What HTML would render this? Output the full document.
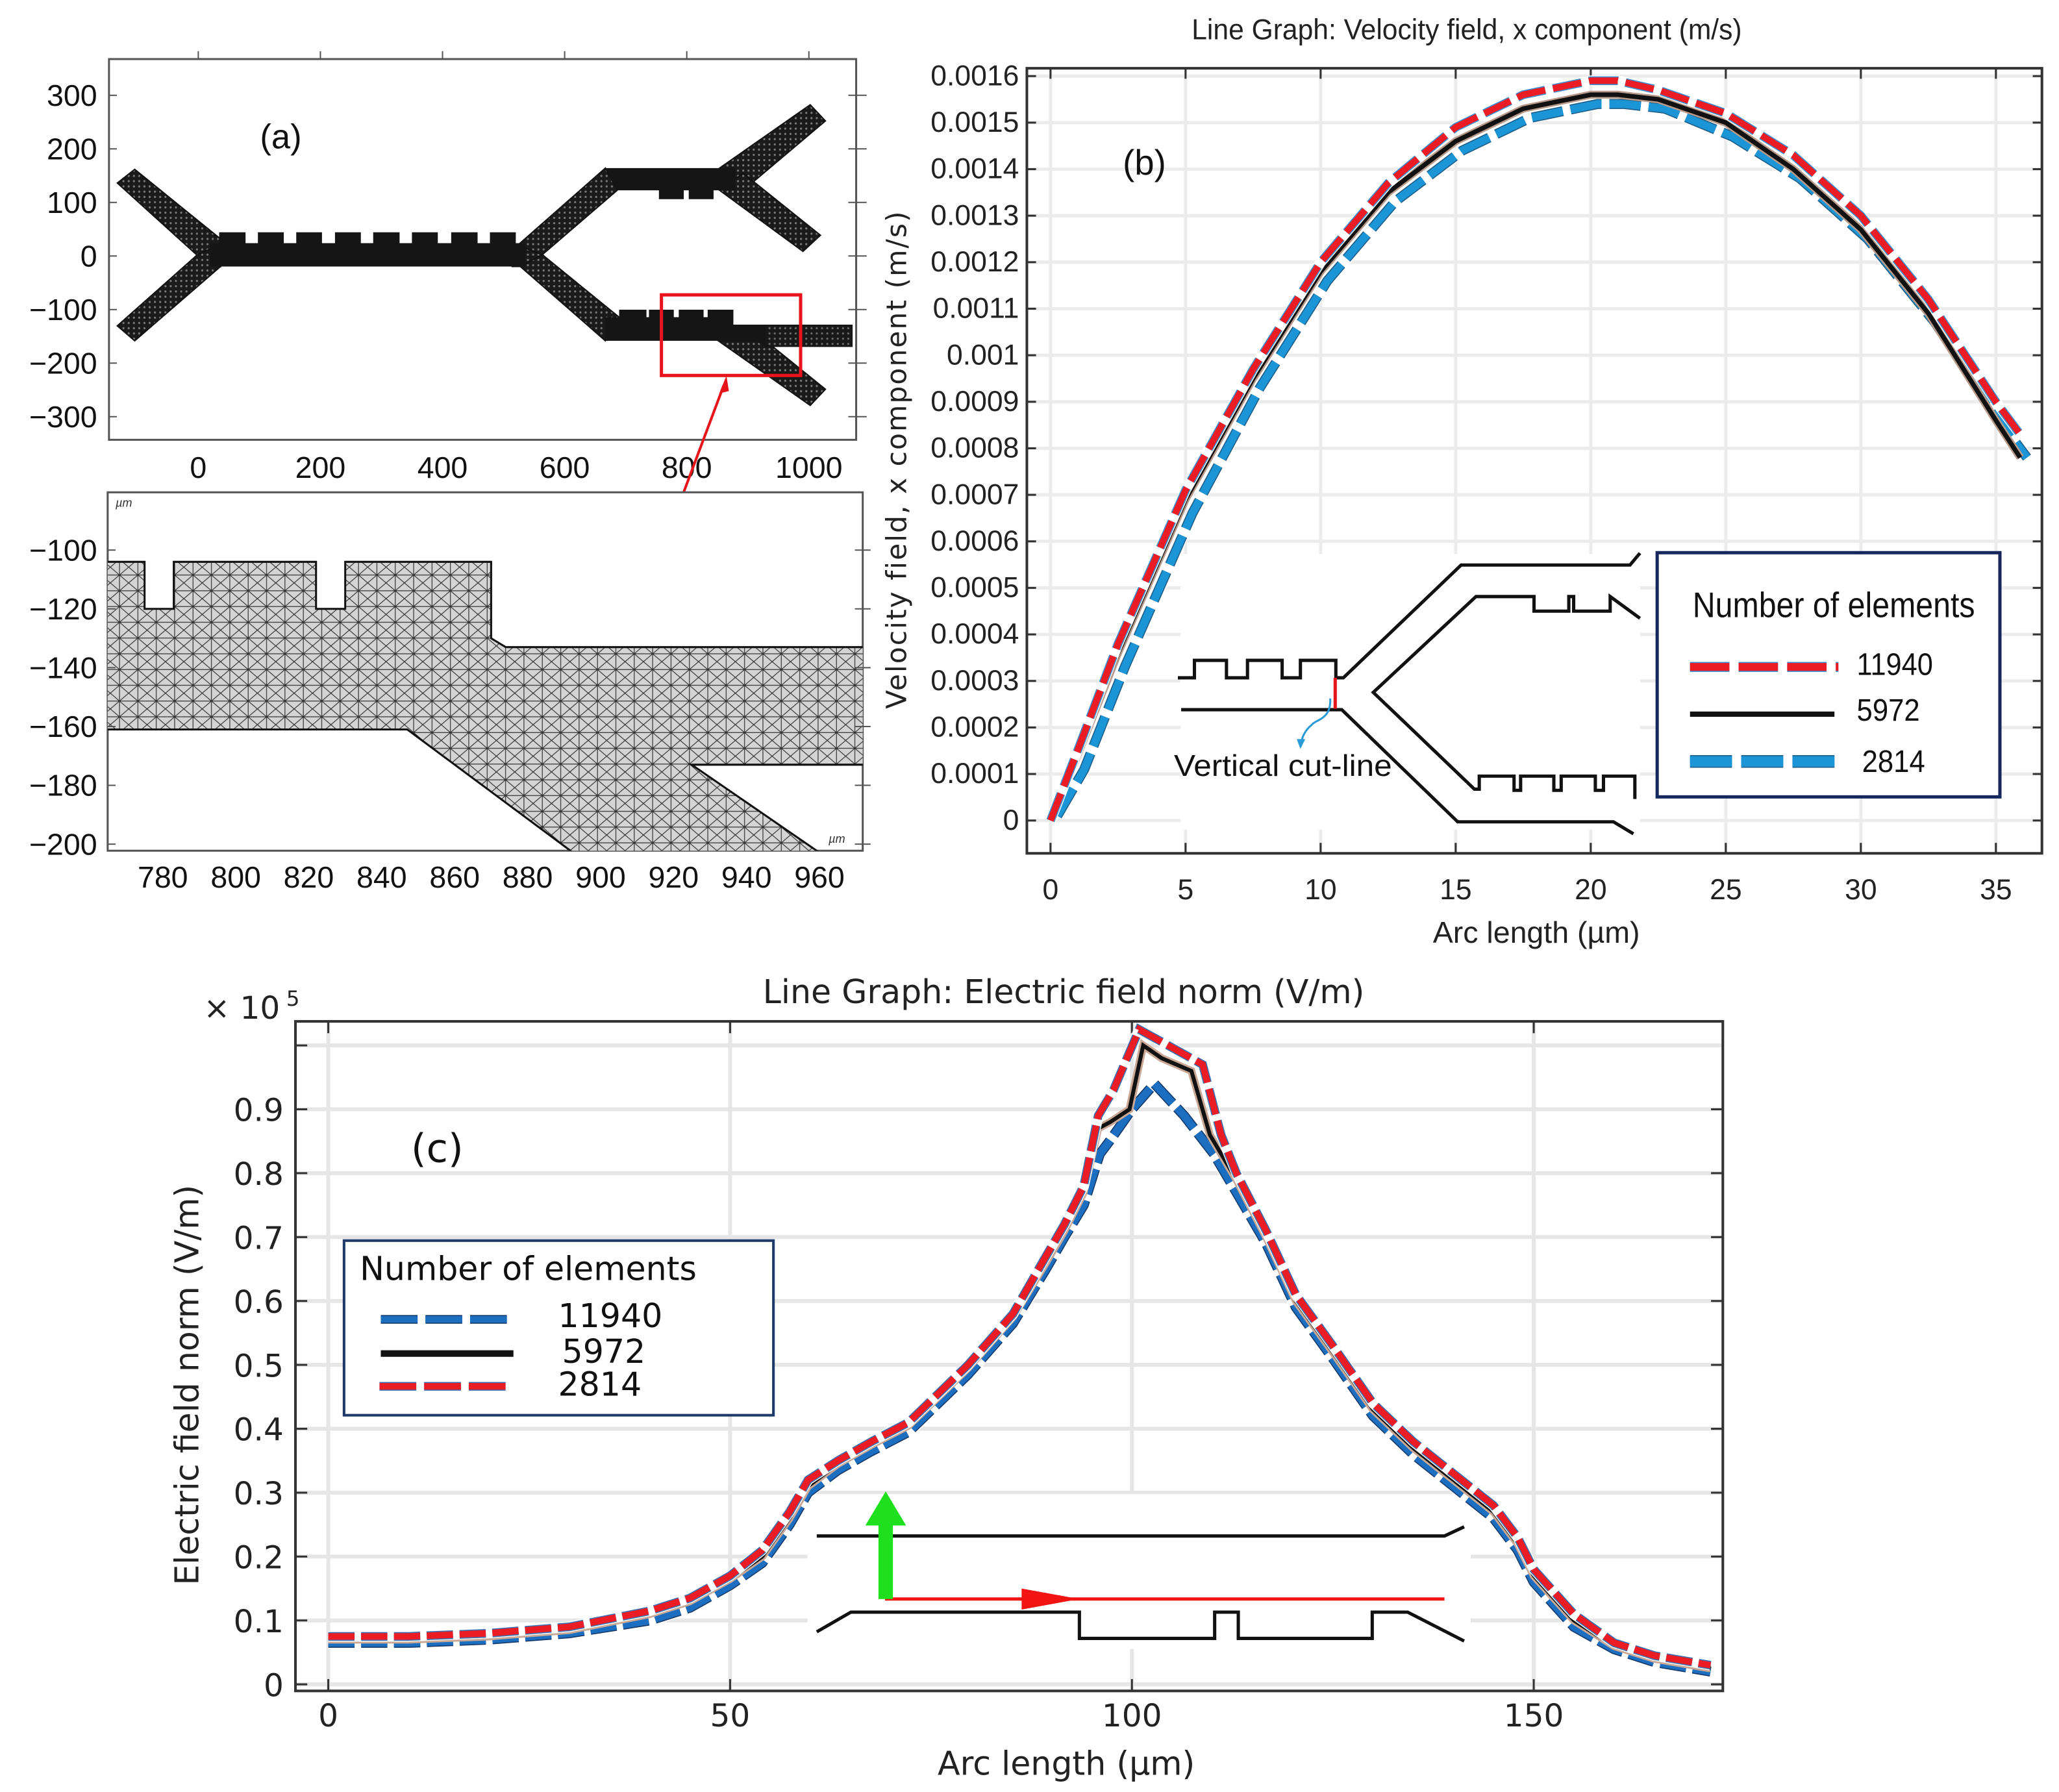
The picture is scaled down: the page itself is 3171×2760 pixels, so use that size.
<!DOCTYPE html>
<html><head><meta charset="utf-8"><style>
html,body{margin:0;padding:0;background:#fff;}
svg{display:block;}
.n{font-family:"Liberation Sans Narrow","Liberation Sans",sans-serif;}
.d{font-family:"DejaVu Sans","Liberation Sans",sans-serif;}
.l{font-family:"Liberation Sans",sans-serif;}
</style></head><body>
<svg id="fig" xmlns="http://www.w3.org/2000/svg" width="3171" height="2760" viewBox="0 0 1568 1365" preserveAspectRatio="none">
<defs>
<pattern id="mesh" width="14" height="12" patternUnits="userSpaceOnUse">
<rect width="14" height="12" fill="#d4d4d4"/>
<path d="M0 0L14 12M14 0L0 12M0 6H14M7 0V12" stroke="#333" stroke-width="0.6" fill="none"/>
</pattern>
<pattern id="dmesh" width="4" height="4" patternUnits="userSpaceOnUse">
<rect width="4" height="4" fill="#1a1a1a"/><circle cx="2" cy="2" r="0.8" fill="#777"/>
</pattern>
<clipPath id="clipA2"><rect x="82" y="375" width="575" height="273"/></clipPath>
<clipPath id="clipB"><rect x="782" y="52" width="773" height="598"/></clipPath>
<clipPath id="clipC"><rect x="225" y="778" width="1087" height="510"/></clipPath>
</defs>
<g id="panelA"></g>
<g id="panelB"></g>
<g id="panelC"></g>
</svg>
<script>
// ---------- Panel (b) data ----------
var bArc = [0, 1, 2.5, 5, 7.5, 10, 12.5, 15, 17.5, 20, 21, 22.5, 25, 27.5, 30, 32.5, 35, 35.9];
var bRed11940 = [0, 0.00015, 0.00038, 0.00071, 0.00097, 0.00120, 0.00137, 0.00149, 0.00156, 0.00159, 0.00159, 0.00157, 0.00152, 0.00143, 0.00130, 0.00112, 0.00090, 0.00083];
var bBlack5972 = [0, 0.00014, 0.00036, 0.00069, 0.00095, 0.00118, 0.00135, 0.00146, 0.00153, 0.00156, 0.00156, 0.00155, 0.00150, 0.00140, 0.00127, 0.00109, 0.00086, 0.00078];
var bBlue2814 = [0.00001, 0.00011, 0.00033, 0.00066, 0.00093, 0.00116, 0.00133, 0.00144, 0.00151, 0.00154, 0.00154, 0.00153, 0.00147, 0.00138, 0.00125, 0.00107, 0.00085, 0.00078];
var bYTicks = ["0","0.0001","0.0002","0.0003","0.0004","0.0005","0.0006","0.0007","0.0008","0.0009","0.001","0.0011","0.0012","0.0013","0.0014","0.0015","0.0016"];
var bXTicks = [0,5,10,15,20,25,30,35];
// ---------- Panel (c) data ----------
var cArcRed = [0,10,20,30,40,45,50,54,57.4,59.7,63.4,67.6,72.2,79.6,85.2,89.3,91.6,94,95.8,97.7,100.9,104.5,108.8,111.1,113,116.7,120.4,125,130,135,140,145,148,150,155,160,165,172];
var cRed2814 = [0.075,0.075,0.08,0.09,0.115,0.135,0.17,0.21,0.27,0.32,0.35,0.38,0.41,0.50,0.58,0.67,0.72,0.78,0.89,0.93,1.025,1.0,0.97,0.86,0.80,0.71,0.61,0.53,0.44,0.38,0.33,0.28,0.23,0.18,0.11,0.065,0.045,0.03];
var cArcBlack = [0,10,20,30,40,45,50,54,57.4,59.7,63.4,67.6,72.2,79.6,85.2,89.3,91.6,94,95.8,97.3,99.7,101.4,103.7,107.4,109.7,113,116.7,120.4,125,130,135,140,145,148,150,155,160,165,172];
var cBlack5972 = [0.07,0.07,0.075,0.085,0.11,0.13,0.165,0.20,0.26,0.31,0.345,0.375,0.405,0.495,0.575,0.66,0.71,0.77,0.87,0.88,0.90,1.0,0.98,0.96,0.86,0.79,0.70,0.60,0.52,0.43,0.37,0.32,0.27,0.22,0.17,0.10,0.06,0.04,0.025];
var cArcBlue = [0,10,20,30,40,45,50,54,57.4,59.7,63.4,67.6,72.2,79.6,85.2,89.3,91.6,94,96,97.2,100,102.8,106.5,110.2,113,116.7,120.4,125,130,135,140,145,148,150,155,160,165,172];
var cBlue11940 = [0.065,0.065,0.07,0.08,0.10,0.12,0.155,0.19,0.25,0.30,0.335,0.365,0.395,0.485,0.565,0.65,0.70,0.75,0.83,0.85,0.90,0.94,0.89,0.83,0.77,0.69,0.59,0.51,0.42,0.36,0.31,0.26,0.21,0.16,0.09,0.055,0.035,0.02];
var cYTicks = ["0","0.1","0.2","0.3","0.4","0.5","0.6","0.7","0.8","0.9"];
var cXTicks = [0,50,100,150];
// ---------- Panel (a) tick labels ----------
var aYTicks = [300,200,100,0,-100,-200,-300];
var aXTicks = [0,200,400,600,800,1000];
var a2YTicks = [-100,-120,-140,-160,-180,-200];
var a2XTicks = [780,800,820,840,860,880,900,920,940,960];

var NS = "http://www.w3.org/2000/svg";
function mk(parent, tag, attrs, txt){
  var e = document.createElementNS(NS, tag);
  for (var k in attrs) e.setAttribute(k, attrs[k]);
  if (txt !== undefined) e.textContent = txt;
  parent.appendChild(e);
  return e;
}
function pts(a){ return a.map(function(p){return p[0].toFixed(2)+","+p[1].toFixed(2);}).join(" "); }

// ================= PANEL A =================
var A = document.getElementById("panelA");
var ax = function(v){ return 151 + v*0.465; };
var ay = function(v){ return 195 - v*0.408; };
var e;
e = mk(A, "rect", {x:83,y:45,width:569,height:290,fill:"#fff",stroke:"#555","stroke-width":1.5});


aYTicks.forEach(function(v){
  var t = mk(A,"text",{x:74,y:ay(v)+8,"font-size":23,"text-anchor":"end","class":"l",fill:"#111"}, v<0? "\u2212"+(-v): String(v));
  
  
  mk(A,"line",{x1:83,x2:89,y1:ay(v),y2:ay(v),stroke:"#555"});
  mk(A,"line",{x1:646,x2:660,y1:ay(v),y2:ay(v),stroke:"#555"});
});
aXTicks.forEach(function(v){
  var t = mk(A,"text",{x:ax(v),y:364,"font-size":23,"text-anchor":"middle","class":"l",fill:"#111"}, String(v));
  
  
  mk(A,"line",{x1:ax(v),x2:ax(v),y1:39,y2:45,stroke:"#555"});
});
var lab = mk(A,"text",{x:198,y:113,"font-size":26,"class":"n",fill:"#111"},"(a)");


var geo = mk(A,"g",{});


var shapes = [
  [[89.3,139.4],[102.6,129],[168,182],[168,203],[150,194.3]],
  [[150,194.3],[168,186],[168,203],[102.6,259.6],[89.3,248.2]],
  [[394,187],[461,128],[470,145],[413,194]],
  [[396,202.8],[413,194],[471.5,241.6],[461,259.6]],
  [[390,185],[413,194],[396,203],[390,203]],
  [[548,128],[617,79.8],[628.6,92.1],[566,145]],
  [[548,145],[566,132],[624.8,179.2],[611.5,191.5]],
  [[547,259.6],[583,259.6],[628.6,296.5],[617,308.8]]
];
shapes.forEach(function(s){ mk(geo,"polygon",{points:pts(s),fill:"url(#dmesh)",stroke:"#111","stroke-width":1}); });
var bx=[[166.9,187],[196.4,216.1],[225.6,245.2],[255.1,274.8],[284.2,304.3],[313.7,333.4],[343.6,363.7],[373.1,392.8]];
var cp=[[160,203],[160,185.2]];
bx.forEach(function(b){cp.push([b[0],185.2],[b[0],176.9],[b[1],176.9],[b[1],185.2]);});
cp.push([400,185.2],[400,203]);
mk(geo,"polygon",{points:pts(cp),fill:"#151515"});
mk(geo,"polygon",{points:pts([[461,128],[560,128],[560,145],[543.4,145],[543.4,151.7],[524.5,151.7],[524.5,145],[520.7,145],[520.7,151.7],[501.8,151.7],[501.8,145],[469.6,145]]),fill:"#151515"});
var lb=[[471.5,492.3],[494.2,513.1],[516.9,535.8],[538.9,558.5]];
var lp=[[461,259.6],[461,241.6]];
lb.forEach(function(b){lp.push([b[0],241.6],[b[0],235.9],[b[1],235.9],[b[1],241.6]);});
lp.push([558.5,247.3],[649.3,247.3],[649.3,264.3],[583,264.3],[575,259.6]);
mk(geo,"polygon",{points:pts(lp),fill:"#151515"});
mk(geo,"rect",{x:583,y:248.5,width:65,height:14.5,fill:"url(#dmesh)",opacity:0.85});
var zr = mk(A,"rect",{x:503.7,y:224.6,width:106,height:61.4,fill:"none",stroke:"#e8141b","stroke-width":2.5});


var arr = mk(A,"g",{stroke:"#e8141b","stroke-width":2,fill:"#e8141b"});


mk(arr,"line",{x1:551,y1:294,x2:506,y2:414});
mk(arr,"polygon",{points:"553,288 548.5,299 554.5,297.5","stroke-width":1});
mk(arr,"polygon",{points:"503.5,419 502,407 507.5,409.5","stroke-width":1});

var bxm = function(v){ return 124 + (v-780)*2.778; };
var bym = function(v){ return 419 + (-100 - v)*2.24; };
e = mk(A,"rect",{x:82,y:375,width:575,height:273,fill:"#fff",stroke:"#555","stroke-width":1.5});


var zg = mk(A,"g",{"clip-path":"url(#clipA2)"});


var mp = [[760,-104],[775,-104],[775,-120],[783,-120],[783,-104],[822,-104],[822,-120],[830,-120],[830,-104],[870,-104],[870,-130],[874,-133],[975,-133],[975,-173],[925,-173],[966,-208],[898,-208],[847,-161],[760,-161]].map(function(p){return [bxm(p[0]),bym(p[1])];});
mk(zg,"polygon",{points:pts(mp),fill:"url(#mesh)",stroke:"#111","stroke-width":1.5});
a2YTicks.forEach(function(v){
  var t = mk(A,"text",{x:74,y:bym(v)+8,"font-size":23,"text-anchor":"end","class":"l",fill:"#111"},"\u2212"+(-v));
  
  
  mk(A,"line",{x1:82,x2:88,y1:bym(v),y2:bym(v),stroke:"#555"});
  mk(A,"line",{x1:651,x2:663,y1:bym(v),y2:bym(v),stroke:"#555"});
});
a2XTicks.forEach(function(v){
  var t = mk(A,"text",{x:bxm(v),y:676,"font-size":23,"text-anchor":"middle","class":"l",fill:"#111"},String(v));
  
  
});
mk(A,"text",{x:88,y:386,"font-size":9,"class":"l","font-style":"italic",fill:"#333"},"\u00b5m");
mk(A,"text",{x:631,y:642,"font-size":9,"class":"l","font-style":"italic",fill:"#333"},"\u00b5m");

// ================= PANEL B =================
var B = document.getElementById("panelB");
var X1 = 782, X2 = 1555, Y1 = 52, Y2 = 650;
var bX = function(v){ return 800 + v*20.57; };
var bY = function(v){ return 625 - v*354400; };
e = mk(B,"text",{x:1117,y:30,"font-size":22,"text-anchor":"middle","class":"n",fill:"#222",textLength:419,lengthAdjust:"spacingAndGlyphs"},"Line Graph: Velocity field, x component (m/s)");


var grid = mk(B,"g",{stroke:"#ececec","stroke-width":2.5});


bYTicks.forEach(function(s){ var v=parseFloat(s); mk(grid,"line",{x1:X1,x2:X2,y1:bY(v),y2:bY(v)}); });
bXTicks.forEach(function(v){ mk(grid,"line",{x1:bX(v),x2:bX(v),y1:Y1,y2:Y2}); });
mk(B,"rect",{x:899,y:422,width:350,height:210,fill:"#fff"});
e = mk(B,"rect",{x:X1,y:Y1,width:X2-X1,height:Y2-Y1,fill:"none",stroke:"#333","stroke-width":2});


bYTicks.forEach(function(s){
  var v=parseFloat(s);
  var t = mk(B,"text",{x:776,y:bY(v)+7,"font-size":22,"text-anchor":"end","class":"n",fill:"#222"},s);
  
  
  mk(B,"line",{x1:X1,x2:X1+7,y1:bY(v),y2:bY(v),stroke:"#333","stroke-width":1.5});
  mk(B,"line",{x1:X2-7,x2:X2,y1:bY(v),y2:bY(v),stroke:"#333","stroke-width":1.5});
});
bXTicks.forEach(function(v){
  var t = mk(B,"text",{x:bX(v),y:685,"font-size":22,"text-anchor":"middle","class":"n",fill:"#222"},String(v));
  
  
  mk(B,"line",{x1:bX(v),x2:bX(v),y1:Y2-8,y2:Y2,stroke:"#333","stroke-width":1.5});
  mk(B,"line",{x1:bX(v),x2:bX(v),y1:Y1,y2:Y1+8,stroke:"#333","stroke-width":1.5});
});
e = mk(B,"text",{x:1170,y:718,"font-size":23,"text-anchor":"middle","class":"n",fill:"#222"},"Arc length (\u00b5m)");


e = mk(B,"text",{x:0,y:0,"font-size":21,"text-anchor":"middle","class":"d",fill:"#222","letter-spacing":"1",transform:"translate(690,350) rotate(-90)"},"Velocity field, x component (m/s)");


e = mk(B,"text",{x:855,y:133,"font-size":27,"class":"n",fill:"#111"},"(b)");



function dashed(g, d, col, edge, w, dash){
  mk(g,"path",{d:d,fill:"none",stroke:"#fff","stroke-width":w+3,"stroke-linejoin":"round"});
  mk(g,"path",{d:d,fill:"none",stroke:edge,"stroke-width":w+1.6,"stroke-dasharray":dash});
  return mk(g,"path",{d:d,fill:"none",stroke:col,"stroke-width":w,"stroke-dasharray":dash});
}
function pathD(xs, ys, fx, fy){ return xs.map(function(x,i){return (i?"L":"M")+fx(x).toFixed(2)+","+fy(ys[i]).toFixed(2);}).join(""); }
var sb = mk(B,"g",{"clip-path":"url(#clipB)"});


var gBlue = mk(sb,"g",{});


dashed(gBlue, pathD(bArc.map(function(x){return x+0.25;}), bBlue2814, bX, bY), "#1b95d6", "#1e5f8a", 6, "24 6");
var gBlk = mk(sb,"g",{});


var dk = pathD(bArc, bBlack5972, bX, bY);
mk(gBlk,"path",{d:dk,fill:"none",stroke:"#b79a8a","stroke-width":6});
mk(gBlk,"path",{d:dk,fill:"none",stroke:"#111","stroke-width":3.5});
var gRed = mk(sb,"g",{});


dashed(gRed, pathD(bArc, bRed11940, bX, bY), "#ec1c24", "#3a8fd0", 5, "22 6");

var ins = mk(B,"g",{fill:"none",stroke:"#111","stroke-width":2.5});


mk(ins,"polyline",{points:"897,516.3 909.6,516.3 909.6,503 934,503 934,516.3 950,516.3 950,503 976.4,503 976.4,516.3 990.3,516.3 990.3,503 1017.3,503 1017.3,516.3 1023,516.3 1112.7,430.4 1241.3,430.4 1248.9,421.3"});
mk(ins,"polyline",{points:"1248.9,471 1226.2,454.4 1226.2,465.5 1198.4,465.5 1198.4,454.4 1194.7,454.4 1194.7,465.5 1168.2,465.5 1168.2,454.4 1124,454.4 1045.8,527.4 1122.8,601.1 1126.5,601.1 1126.5,591.2 1153,591.2 1153,602 1158,602 1158,591.2 1183.3,591.2 1183.3,602 1188.9,602 1188.9,591.2 1214.9,591.2 1214.9,602 1221.1,602 1221.1,591.2 1245,591.2 1245,608.6"});
mk(ins,"polyline",{points:"899.5,540.6 1021.8,540.6 1110.1,626 1228.7,626 1243.9,635.1"});
e = mk(B,"line",{x1:1016.8,y1:516.3,x2:1016.8,y2:539.8,stroke:"#e8141b","stroke-width":2.5});


e = mk(B,"path",{d:"M1013,532 C1014,548 1002,548 999,552 C994,556 991,562 991,567",fill:"none",stroke:"#2a9ad8","stroke-width":1.5});


mk(B,"polygon",{points:"987.5,563 994,563 990.3,570.5",fill:"#2a9ad8"});
e = mk(B,"text",{x:894,y:591,"font-size":23,"class":"n",fill:"#111",textLength:166,lengthAdjust:"spacingAndGlyphs"},"Vertical cut-line");



var lgB = mk(B,"g",{});


mk(lgB,"rect",{x:1262,y:421,width:261,height:186,fill:"#fff",stroke:"#16285e","stroke-width":2.5});
mk(lgB,"text",{x:1289,y:470,"font-size":27,"class":"n",fill:"#111",textLength:215,lengthAdjust:"spacingAndGlyphs"},"Number of elements");
var e1 = mk(lgB,"g",{});


dashed(e1,"M1287,508H1400","#ec1c24","#3a8fd0",6,"30 7");
mk(e1,"text",{x:1414,y:514,"font-size":24,"class":"n",fill:"#111",textLength:58,lengthAdjust:"spacingAndGlyphs"},"11940");
var e2 = mk(lgB,"g",{});


mk(e2,"line",{x1:1287,x2:1397,y1:544,y2:544,stroke:"#111","stroke-width":4});
mk(e2,"text",{x:1414,y:549,"font-size":24,"class":"n",fill:"#111",textLength:48,lengthAdjust:"spacingAndGlyphs"},"5972");
var e3 = mk(lgB,"g",{});


dashed(e3,"M1287,580H1402","#1b95d6","#1e5f8a",8,"32 7");
mk(e3,"text",{x:1418,y:588,"font-size":24,"class":"n",fill:"#111",textLength:48,lengthAdjust:"spacingAndGlyphs"},"2814");

// ================= PANEL C =================
var C = document.getElementById("panelC");
var CX1=225, CX2=1312, CY1=778, CY2=1288;
var cX = function(v){ return 250 + v*6.12; };
var cY = function(v){ return 1283 - v*486.7; };
e = mk(C,"text",{x:810,y:764,"font-size":25,"text-anchor":"middle","class":"d",fill:"#222"},"Line Graph: Electric field norm (V/m)");


var gc = mk(C,"g",{stroke:"#e6e6e6","stroke-width":3});


cYTicks.concat(["1.0"]).forEach(function(s){ var v=parseFloat(s); mk(gc,"line",{x1:CX1,x2:CX2,y1:cY(v),y2:cY(v)}); });
cXTicks.forEach(function(v){ mk(gc,"line",{x1:cX(v),x2:cX(v),y1:CY1,y2:CY2}); });
mk(C,"rect",{x:615,y:1138,width:505,height:118,fill:"#fff"});
e = mk(C,"rect",{x:CX1,y:CY1,width:CX2-CX1,height:CY2-CY1,fill:"none",stroke:"#333","stroke-width":2});


cYTicks.forEach(function(s){
  var v=parseFloat(s);
  var t = mk(C,"text",{x:216,y:cY(v)+9,"font-size":24,"text-anchor":"end","class":"d",fill:"#222"},s);
  
  
  mk(C,"line",{x1:CX1,x2:CX1+9,y1:cY(v),y2:cY(v),stroke:"#333","stroke-width":1.5});
  mk(C,"line",{x1:CX2-9,x2:CX2,y1:cY(v),y2:cY(v),stroke:"#333","stroke-width":1.5});
});
mk(C,"line",{x1:CX1,x2:CX1+9,y1:cY(1),y2:cY(1),stroke:"#333","stroke-width":1.5});
cXTicks.forEach(function(v){
  var t = mk(C,"text",{x:cX(v),y:1315,"font-size":24,"text-anchor":"middle","class":"d",fill:"#222"},String(v));
  
  
  mk(C,"line",{x1:cX(v),x2:cX(v),y1:CY2-9,y2:CY2,stroke:"#333","stroke-width":1.5});
  mk(C,"line",{x1:cX(v),x2:cX(v),y1:CY1,y2:CY1+9,stroke:"#333","stroke-width":1.5});
});
e = mk(C,"text",{x:812,y:1352,"font-size":25,"text-anchor":"middle","class":"d",fill:"#222"},"Arc length (\u00b5m)");


e = mk(C,"text",{x:0,y:0,"font-size":25,"text-anchor":"middle","class":"d",fill:"#222",transform:"translate(151,1055) rotate(-90)"},"Electric field norm (V/m)");


e = mk(C,"text",{x:155,y:776,"font-size":24,"class":"d",fill:"#222"},"\u00d7 10");


mk(C,"text",{x:218,y:766,"font-size":16,"class":"d",fill:"#222"},"5");
e = mk(C,"text",{x:313,y:885,"font-size":30,"class":"d",fill:"#111"},"(c)");



var sc = mk(C,"g",{"clip-path":"url(#clipC)"});


var cB = mk(sc,"g",{});


dashed(cB, pathD(cArcBlue, cBlue11940, cX, cY), "#1c6fc0", "#163a6a", 6, "20 5");
var cK = mk(sc,"g",{});


var ck = pathD(cArcBlack, cBlack5972, cX, cY);
mk(cK,"path",{d:ck,fill:"none",stroke:"#c9a995","stroke-width":6});
mk(cK,"path",{d:ck,fill:"none",stroke:"#111","stroke-width":3});
var cR = mk(sc,"g",{});


dashed(cR, pathD(cArcRed, cRed2814, cX, cY), "#ec1c24", "#3a6fb0", 5, "20 5");

var ic = mk(C,"g",{fill:"none",stroke:"#111","stroke-width":2.5});


mk(ic,"polyline",{points:"622,1170 1100,1170 1115,1163"});
mk(ic,"polyline",{points:"622,1243 648,1228 822,1228 822,1248 925,1248 925,1228 943,1228 943,1248 1045,1248 1045,1228 1072,1228 1115,1250"});
e = mk(C,"line",{x1:674,y1:1218,x2:1100,y2:1218,stroke:"#f21313","stroke-width":2.5});


mk(C,"polygon",{points:"778,1210 822,1218 778,1226",fill:"#f21313"});
e = mk(C,"g",{fill:"#1fe01f"});


mk(e,"rect",{x:669,y:1160,width:11,height:58});
mk(e,"polygon",{points:"659,1162 674.5,1136 690,1162"});

var lgC = mk(C,"g",{});


mk(lgC,"rect",{x:262,y:945,width:327,height:133,fill:"#fff",stroke:"#1d3a6a","stroke-width":2});
mk(lgC,"text",{x:274,y:975,"font-size":25,"class":"d",fill:"#111"},"Number of elements");
var f1 = mk(lgC,"g",{});


dashed(f1,"M290,1005H389","#1c6fc0","#163a6a",5,"28 6");
mk(f1,"text",{x:425,y:1011,"font-size":25,"class":"d",fill:"#111"},"11940");
var f2 = mk(lgC,"g",{});


mk(f2,"line",{x1:290,x2:391,y1:1031,y2:1031,stroke:"#111","stroke-width":5});
mk(f2,"text",{x:428,y:1038,"font-size":25,"class":"d",fill:"#111"},"5972");
var f3 = mk(lgC,"g",{});


dashed(f3,"M289,1056H388","#ec1c24","#3a6fb0",5,"28 6");
mk(f3,"text",{x:425,y:1063,"font-size":25,"class":"d",fill:"#111"},"2814");
</script>
</body></html>
